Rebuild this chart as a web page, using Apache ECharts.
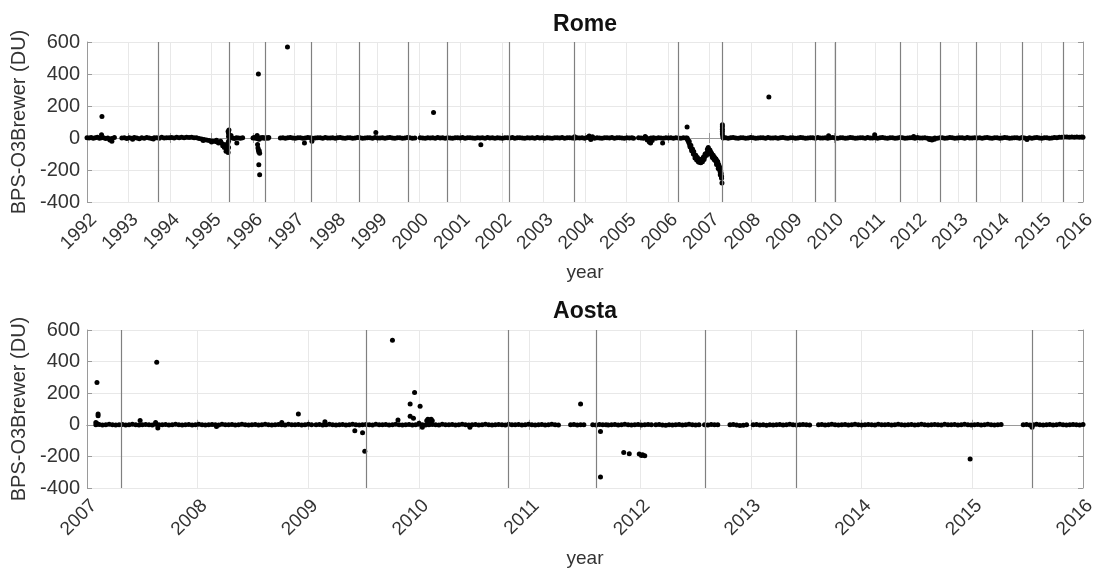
<!DOCTYPE html>
<html>
<head>
<meta charset="utf-8">
<title>BPS-O3Brewer: Rome and Aosta</title>
<script src="https://cdn.jsdelivr.net/npm/echarts@6/dist/echarts.min.js"></script>
<style>
  html, body { margin: 0; padding: 0; background: #fff; }
  #main { width: 1101px; height: 569px; }
</style>
</head>
<body>
<div id="main"></div>
<script>
// ---- axis ranges / ticks ----
var romeYears = [1992, 2016];
var aostaYears = [2007, 2016];
var yTicks = [-400, -200, 0, 200, 400, 600];

// ---- calibration dates (vertical lines), decimal years ----
var romeCalib = [1993.71, 1995.43, 1996.30, 1997.40, 1998.57, 1999.73, 2000.69, 2002.18, 2003.74,
  2006.24, 2007.31, 2009.56, 2010.03, 2011.59, 2012.57, 2013.42, 2014.54, 2015.53];
var aostaCalib = [2007.31, 2009.52, 2010.81, 2011.60, 2012.59, 2013.41, 2015.54];

// ---- Rome: [year, BPS - O3Brewer (DU)] ----
var romeBand1 = [[1992.00,2],[1992.05,0],[1992.10,3],[1992.15,-2],[1992.20,1],[1992.25,4],[1992.30,-1],[1992.35,2],
  [1992.40,2],[1992.45,-3],[1992.50,0],[1992.55,-6],[1992.60,-3],[1992.66,3]];
var romeBand2 = [[1992.84,0],[1992.90,2],[1992.96,-3],[1993.02,1],[1993.08,-2],[1993.14,3],[1993.20,0],[1993.26,-4],
  [1993.32,2],[1993.38,-1],[1993.44,3],[1993.50,0],[1993.56,-3],[1993.62,2],[1993.68,1],[1993.74,-2],[1993.80,4],
  [1993.86,0],[1993.92,2],[1993.98,1],[1994.04,3],[1994.10,0],[1994.16,4],[1994.22,1],[1994.28,5],[1994.34,2],
  [1994.40,5],[1994.46,3],[1994.52,4],[1994.58,2],[1994.64,1],[1994.70,-3],[1994.76,-6],[1994.82,-9],[1994.88,-12],
  [1994.94,-15],[1995.00,-18],[1995.06,-21],[1995.12,-24],[1995.18,-28],[1995.24,-32],[1995.30,-40],[1995.35,-48]];
var romeBand3 = [[1995.45,5],[1995.50,0],[1995.55,-3],[1995.60,2],[1995.65,0],[1995.70,-2],[1995.75,1]];
var romeBand4 = [[1996.00,0],[1996.03,3],[1996.06,-2],[1996.09,5],[1996.12,-5],[1996.15,-8],[1996.18,2],[1996.21,0],
  [1996.24,3],[1996.27,-2],[1996.30,0],[1996.33,2],[1996.36,-1],[1996.38,3]];
var romeBand5 = [[1996.66,0],[1996.72,2],[1996.78,-1],[1996.84,1],[1996.90,3],[1996.96,0],[1997.02,-2],[1997.08,1],
  [1997.14,2],[1997.20,-1],[1997.26,0],[1997.32,3],[1997.38,1],[1997.44,-2],[1997.50,0],[1997.56,2],[1997.62,1],
  [1997.68,-1],[1997.74,3],[1997.80,0],[1997.86,0],[1997.92,2],[1997.98,-1],[1998.04,1],[1998.10,3],[1998.16,0],
  [1998.22,-2],[1998.28,1],[1998.34,2],[1998.40,-1],[1998.46,0],[1998.52,3],[1998.58,1],[1998.64,-2],[1998.70,0],
  [1998.76,2],[1998.82,1],[1998.88,-1],[1998.94,3],[1999.00,0],[1999.06,0],[1999.12,2],[1999.18,-1],[1999.24,1],
  [1999.30,3],[1999.36,0],[1999.42,-2],[1999.48,1],[1999.54,2],[1999.60,-1],[1999.66,0],[1999.72,3],[1999.78,1],
  [1999.84,-2],[1999.90,0]];
var romeBand6 = [[2000.03,1],[2000.09,0],[2000.15,-2],[2000.21,2],[2000.27,0],[2000.33,1],[2000.39,-1],[2000.45,3],
  [2000.51,0],[2000.57,2],[2000.63,-1],[2000.69,1],[2000.75,0],[2000.81,-2],[2000.87,2],[2000.93,1],[2000.99,0],
  [2001.05,3],[2001.11,-1],[2001.17,1],[2001.23,1],[2001.29,0],[2001.35,-2],[2001.41,2],[2001.47,0],[2001.53,1],
  [2001.59,-1],[2001.65,3],[2001.71,0],[2001.77,2],[2001.83,-1],[2001.89,1],[2001.95,0],[2002.01,-2],[2002.07,2],
  [2002.13,1],[2002.19,0],[2002.25,3],[2002.31,-1],[2002.37,1],[2002.43,1],[2002.49,0],[2002.55,-2],[2002.61,2],
  [2002.67,0],[2002.73,1],[2002.79,-1],[2002.85,3],[2002.91,0],[2002.97,2],[2003.03,-1],[2003.09,1],[2003.15,0],
  [2003.21,-2],[2003.27,2],[2003.33,1],[2003.39,0],[2003.45,3],[2003.51,-1],[2003.57,1],[2003.63,1],[2003.69,0],
  [2003.75,-2],[2003.81,2],[2003.87,0],[2003.93,1],[2003.99,-1],[2004.05,3],[2004.11,0],[2004.17,2],[2004.23,-1],
  [2004.29,1],[2004.35,0],[2004.41,-2],[2004.47,2],[2004.53,1],[2004.59,0],[2004.65,3],[2004.71,-1],[2004.77,1],
  [2004.83,1],[2004.89,0],[2004.95,-2],[2005.01,2],[2005.07,0],[2005.13,1],[2005.17,-1]];
var romeBand7 = [[2005.29,2],[2005.35,0],[2005.41,-2],[2005.47,3],[2005.53,-4],[2005.59,0],[2005.65,2],[2005.71,-1],
  [2005.77,1],[2005.83,0],[2005.89,-2],[2005.95,1],[2006.01,0],[2006.07,2],[2006.13,-1],[2006.19,1],[2006.25,0],
  [2006.31,-2],[2006.37,1],[2006.43,0]];
var romeDip = [[2006.46,0],[2006.48,-15],[2006.50,-28],[2006.52,-40],[2006.54,-52],[2006.56,-64],[2006.58,-75],
  [2006.60,-85],[2006.62,-95],[2006.64,-105],[2006.66,-115],[2006.68,-122],[2006.70,-130],[2006.72,-136],
  [2006.74,-141],[2006.76,-144],[2006.78,-146],[2006.80,-143],[2006.82,-140],[2006.84,-133],[2006.86,-126],
  [2006.88,-118],[2006.90,-110],[2006.92,-102],[2006.94,-94],[2006.96,-82],[2006.98,-72],[2007.00,-84],
  [2007.02,-94],[2007.04,-102],[2007.06,-110],[2007.08,-118],[2007.10,-125],[2007.12,-133],[2007.14,-140],
  [2007.16,-148],[2007.18,-157],[2007.20,-168],[2007.22,-182],[2007.24,-198],[2007.26,-215],[2007.28,-236],
  [2007.29,-252],[2006.47,-8],[2006.51,-20],[2006.53,-55],[2006.55,-45],[2006.57,-80],[2006.59,-68],[2006.61,-100],
  [2006.62,-85],[2006.65,-125],[2006.67,-108],[2006.69,-138],[2006.71,-122],[2006.73,-148],[2006.75,-152],
  [2006.77,-135],[2006.79,-155],[2006.80,-135],[2006.83,-148],[2006.85,-120],[2006.87,-135],[2006.89,-104],
  [2006.90,-98],[2006.93,-108],[2006.95,-70],[2006.97,-60],[2006.99,-90],[2007.01,-75],[2007.03,-88],
  [2007.05,-95],[2007.07,-122],[2007.09,-108],[2007.11,-135],[2007.12,-120],[2007.15,-130],[2007.16,-135],
  [2007.17,-165],[2007.19,-145],[2007.20,-150],[2007.21,-190],[2007.22,-165],[2007.23,-175],[2007.25,-185],
  [2007.26,-230],[2007.27,-205],[2007.28,-220],[2007.29,-240],[2007.30,-281]];
var romeBand9 = [[2007.31,83],[2007.31,70],[2007.31,55],[2007.31,40],[2007.31,25],[2007.32,10],
  [2007.33,0],[2007.39,2],[2007.45,-1],[2007.51,1],[2007.57,3],[2007.63,0],[2007.69,-2],[2007.75,1],[2007.81,2],
  [2007.87,-1],[2007.93,0],[2007.99,3],[2008.05,1],[2008.11,-2],[2008.17,0],[2008.23,2],[2008.29,1],[2008.35,-1],
  [2008.41,3],[2008.47,0],[2008.53,0],[2008.59,2],[2008.65,-1],[2008.71,1],[2008.77,3],[2008.83,0],[2008.89,-2],
  [2008.95,1],[2009.01,2],[2009.07,-1],[2009.13,0],[2009.19,3],[2009.25,1],[2009.31,-2],[2009.37,0],[2009.43,2],
  [2009.49,1],[2009.55,-1],[2009.61,3],[2009.67,0],[2009.73,0],[2009.79,2],[2009.85,-1],[2009.91,1],[2009.97,3],
  [2010.03,0],[2010.09,-2],[2010.15,1],[2010.21,2],[2010.27,-1],[2010.33,0],[2010.39,3],[2010.45,1],[2010.51,-2],
  [2010.57,0],[2010.63,2],[2010.69,1],[2010.75,-1],[2010.81,3],[2010.87,0],[2010.93,0],[2010.99,2],[2011.05,-1],
  [2011.11,1],[2011.17,3],[2011.23,0],[2011.29,-2],[2011.35,1],[2011.41,2],[2011.47,-1],[2011.53,0],[2011.59,3],
  [2011.65,1],[2011.71,-2],[2011.77,0],[2011.83,2],[2011.89,1],[2011.95,-1],[2012.01,3],[2012.07,0],[2012.13,0],
  [2012.19,2],[2012.25,-1],[2012.31,-3],[2012.37,-4],[2012.43,0],[2012.49,-2],[2012.55,1],[2012.61,2],[2012.67,-1],
  [2012.73,0],[2012.79,3],[2012.85,1],[2012.91,-2],[2012.97,0],[2013.03,2],[2013.09,1],[2013.15,-1],[2013.21,3],
  [2013.27,0],[2013.33,0],[2013.39,2]];
var romeBand10 = [[2013.45,0],[2013.51,2],[2013.57,-1],[2013.63,1],[2013.69,3],[2013.75,0],[2013.81,-2],[2013.87,1],
  [2013.93,2],[2013.99,-1],[2014.05,0],[2014.11,3],[2014.17,1],[2014.23,-2],[2014.29,0],[2014.35,2],[2014.41,1],
  [2014.47,-1],[2014.53,3],[2014.59,0],[2014.65,-3],[2014.71,2],[2014.77,-1],[2014.83,1],[2014.89,3],[2014.95,0],
  [2015.01,-2],[2015.07,1],[2015.13,2],[2015.19,-1],[2015.25,0],[2015.31,3],[2015.37,1],[2015.43,4],[2015.49,5],
  [2015.55,6],[2015.61,6],[2015.67,5],[2015.73,6],[2015.79,5],[2015.85,6],[2015.91,5],[2015.97,6],[2016.00,5]];
var romeOutliers = [[1992.36,135],[1992.35,20],[1992.60,-20],[1992.55,-12],[1993.10,-8],[1993.60,-7],[1994.80,-15],
  [1995.00,-25],[1995.12,-14],[1995.17,-32],[1995.22,-20],[1995.27,-48],[1995.31,-60],[1995.35,-83],[1995.37,-70],
  [1995.39,-35],[1995.40,-90],[1995.41,-60],[1995.41,-20],[1995.41,10],[1995.41,28],[1995.40,41],[1995.42,50],
  [1995.47,15],[1995.61,-31],[1996.13,400],[1996.10,15],[1996.11,-40],[1996.12,-62],[1996.13,-75],[1996.14,-88],
  [1996.15,-80],[1996.16,-95],[1996.14,-167],[1996.16,-229],[1996.83,569],[1997.24,-31],[1997.42,-20],[1998.96,35],
  [2000.35,160],[2001.49,-42],[2003.75,8],[2004.10,12],[2004.14,-10],[2004.18,8],[2005.45,10],[2005.50,-12],
  [2005.55,-25],[2005.58,-32],[2005.62,-15],[2005.87,-31],[2006.46,69],[2008.43,256],[2009.87,14],[2010.98,20],
  [2011.92,10],[2012.30,-10],[2012.36,-12],[2012.42,-8],[2014.65,-10]];

// ---- Aosta: [year, BPS - O3Brewer (DU)] ----
var aostaBand1 = [[2007.08,0],[2007.11,2],[2007.14,-1],[2007.17,1],[2007.20,3],[2007.23,0],[2007.26,-2],[2007.29,1],
  [2007.32,2],[2007.35,-1],[2007.38,0],[2007.41,3],[2007.44,1],[2007.47,-2],[2007.50,0],[2007.53,2],[2007.56,1],
  [2007.59,-1],[2007.62,3],[2007.65,0],[2007.68,0],[2007.71,2],[2007.74,-1],[2007.77,1],[2007.80,3],[2007.83,0],
  [2007.86,-2],[2007.89,1],[2007.92,2],[2007.95,-1],[2007.98,0],[2008.01,3],[2008.04,1],[2008.07,-2],[2008.10,0],
  [2008.13,2],[2008.16,1],[2008.19,-1],[2008.22,3],[2008.25,0],[2008.28,0],[2008.31,2],[2008.34,-1],[2008.37,1],
  [2008.40,3],[2008.43,0],[2008.46,-2],[2008.49,1],[2008.52,2],[2008.55,-1],[2008.58,0],[2008.61,3],[2008.64,1],
  [2008.67,-2],[2008.70,0],[2008.73,2],[2008.76,1],[2008.79,-1],[2008.82,3],[2008.85,0],[2008.88,0],[2008.91,2],
  [2008.94,-1],[2008.97,1],[2009.00,3],[2009.03,0]];
var aostaBand2 = [[2009.07,0],[2009.10,2],[2009.13,-1],[2009.16,1],[2009.19,3],[2009.22,0],[2009.25,-2],[2009.28,1],
  [2009.31,2],[2009.34,-1],[2009.37,0],[2009.40,3],[2009.43,1],[2009.46,-2],[2009.49,0],[2009.52,2],[2009.55,1],
  [2009.58,-1],[2009.61,3],[2009.64,0],[2009.67,0],[2009.70,2],[2009.73,-1],[2009.76,1],[2009.79,3],[2009.82,0],
  [2009.85,-2],[2009.88,1],[2009.91,2],[2009.94,-1],[2009.97,0],[2010.00,3],[2010.03,1],[2010.06,-2],[2010.09,0],
  [2010.12,2],[2010.15,1],[2010.18,-1],[2010.21,3],[2010.24,0],[2010.27,0],[2010.30,2],[2010.33,-1],[2010.36,1],
  [2010.39,3],[2010.42,0],[2010.45,-2],[2010.48,1],[2010.51,2],[2010.54,-1],[2010.57,0],[2010.60,3],[2010.63,1],
  [2010.66,-2],[2010.69,0],[2010.72,2],[2010.75,1],[2010.78,-1],[2010.81,3],[2010.84,0],[2010.87,0],[2010.90,2],
  [2010.93,-1],[2010.96,1],[2010.99,3],[2011.02,0],[2011.05,-2],[2011.08,1],[2011.11,2],[2011.14,-1],[2011.17,0],
  [2011.20,3],[2011.23,1],[2011.26,-2]];
var aostaBand3 = [[2011.37,0],[2011.40,2],[2011.43,-1],[2011.46,1],[2011.49,0]];
var aostaBand4 = [[2011.57,1],[2011.60,-1],[2011.63,2],[2011.66,0],[2011.69,1],[2011.71,-1]];
var aostaBand5 = [[2011.74,0],[2011.77,2],[2011.80,-1],[2011.83,1],[2011.86,3],[2011.89,0],[2011.92,-2],[2011.95,1],
  [2011.98,2],[2012.01,-1],[2012.04,0],[2012.07,2],[2012.10,1]];
var aostaBand6 = [[2012.14,0],[2012.17,2],[2012.20,-1],[2012.23,-3],[2012.26,0],[2012.29,-2],[2012.32,1],[2012.35,2],
  [2012.38,-1],[2012.41,0],[2012.44,3],[2012.47,1],[2012.50,-2],[2012.53,0]];
var aostaBand7 = [[2012.58,1],[2012.61,-1],[2012.64,2],[2012.67,0],[2012.70,1]];
var aostaBand8 = [[2012.81,0],[2012.84,2],[2012.87,-1],[2012.90,-4],[2012.93,-3],[2012.96,0]];
var aostaBand9 = [[2013.02,0],[2013.05,2],[2013.08,-1],[2013.11,1],[2013.14,-3],[2013.17,0],[2013.20,-2],[2013.23,1],
  [2013.26,2],[2013.29,-1],[2013.32,0],[2013.35,3],[2013.38,1],[2013.41,-2],[2013.44,0],[2013.47,2],[2013.50,1],
  [2013.53,-1]];
var aostaBand10 = [[2013.61,0],[2013.64,2],[2013.67,-1],[2013.70,1],[2013.73,3],[2013.76,0],[2013.79,-2],[2013.82,1],
  [2013.85,2],[2013.88,-1],[2013.91,0],[2013.94,3],[2013.97,1],[2014.00,-2],[2014.03,0],[2014.06,2],[2014.09,1],
  [2014.12,-1],[2014.15,3],[2014.18,0],[2014.21,0],[2014.24,2],[2014.27,-1],[2014.30,1],[2014.33,3],[2014.36,0],
  [2014.39,-2],[2014.42,1],[2014.45,2],[2014.48,-1],[2014.51,0],[2014.54,3],[2014.57,1],[2014.60,-2],[2014.63,0],
  [2014.66,2],[2014.69,1],[2014.72,-1],[2014.75,3],[2014.78,0],[2014.81,0],[2014.84,2],[2014.87,-1],[2014.90,1],
  [2014.93,3],[2014.96,0],[2014.99,-2],[2015.02,1],[2015.05,2],[2015.08,-1],[2015.11,0],[2015.14,3],[2015.17,1],
  [2015.20,-2],[2015.23,0],[2015.26,2]];
var aostaBand11 = [[2015.46,0],[2015.49,2],[2015.52,-1],[2015.55,1],[2015.58,3],[2015.61,0],[2015.64,-2],[2015.67,1],
  [2015.70,2],[2015.73,-1],[2015.76,0],[2015.79,3],[2015.82,1],[2015.85,-2],[2015.88,0],[2015.91,2],[2015.94,1],
  [2015.97,-1],[2016.00,2]];
var aostaOutliers = [[2007.09,267],[2007.10,69],[2007.10,58],[2007.08,15],[2007.09,8],[2007.48,27],[2007.62,15],
  [2007.63,396],[2007.64,-20],[2008.17,-10],[2008.76,15],[2008.91,69],[2009.15,20],[2009.42,-38],[2009.49,-50],
  [2009.51,-167],[2009.76,535],[2009.81,30],[2009.92,131],[2009.92,54],[2009.95,42],[2009.96,204],[2010.00,10],
  [2010.01,117],[2010.03,-15],[2010.07,25],[2010.08,35],[2010.09,30],[2010.10,22],[2010.11,35],[2010.12,25],
  [2010.46,-15],[2011.46,131],[2011.64,-42],[2011.64,-331],[2011.85,-175],[2011.90,-183],[2011.99,-185],
  [2012.01,-194],[2012.02,-190],[2012.04,-196],[2014.98,-217],[2015.54,-15]];

var romeData = [].concat(romeBand1, romeBand2, romeBand3, romeBand4, romeBand5, romeBand6, romeBand7,
  romeDip, romeBand9, romeBand10, romeOutliers);
var aostaData = [].concat(aostaBand1, aostaBand2, aostaBand3, aostaBand4, aostaBand5, aostaBand6, aostaBand7,
  aostaBand8, aostaBand9, aostaBand10, aostaBand11, aostaOutliers);

var FONT = '"Liberation Sans", Arial, Helvetica, sans-serif';
var frameColor = '#9a9a9a';
var gridColor = '#e8e8e8';
var labelColor = '#333';

function bottomAxis(idx, range) {
  return {
    gridIndex: idx, type: 'value', position: 'bottom',
    min: range[0], max: range[1], interval: 1,
    name: 'year', nameLocation: 'middle', nameGap: 61,
    nameTextStyle: { fontSize: 19, color: labelColor, fontFamily: FONT },
    axisLine: { show: true, lineStyle: { color: frameColor, width: 1 } },
    axisTick: { show: true, inside: true, length: 5, lineStyle: { color: frameColor } },
    axisLabel: { rotate: 45, fontSize: 19, color: labelColor, fontFamily: FONT, margin: 8,
      verticalAlign: 'top',
      formatter: function (v) { return String(v); } },
    splitLine: { show: true, lineStyle: { color: gridColor, width: 1 } }
  };
}
function topAxis(idx, range) {
  return {
    gridIndex: idx, type: 'value', position: 'top',
    min: range[0], max: range[1], interval: 1,
    axisLine: { show: true, lineStyle: { color: frameColor, width: 1 } },
    axisTick: { show: true, inside: true, length: 5, lineStyle: { color: frameColor } },
    axisLabel: { show: false }, splitLine: { show: false }
  };
}
function leftAxis(idx) {
  return {
    gridIndex: idx, type: 'value', position: 'left',
    min: yTicks[0], max: yTicks[yTicks.length - 1], interval: yTicks[1] - yTicks[0],
    name: 'BPS-O3Brewer (DU)', nameLocation: 'middle', nameGap: 48, nameRotate: 90,
    nameTextStyle: { fontSize: 20, color: labelColor, fontFamily: FONT },
    axisLine: { show: true, lineStyle: { color: frameColor, width: 1 } },
    axisTick: { show: true, inside: true, length: 5, lineStyle: { color: frameColor } },
    axisLabel: { fontSize: 20, color: labelColor, fontFamily: FONT, margin: 7 },
    splitLine: { show: true, lineStyle: { color: gridColor, width: 1 } }
  };
}
function rightAxis(idx) {
  return {
    gridIndex: idx, type: 'value', position: 'right',
    min: yTicks[0], max: yTicks[yTicks.length - 1], interval: yTicks[1] - yTicks[0],
    axisLine: { show: true, lineStyle: { color: frameColor, width: 1 } },
    axisTick: { show: true, inside: true, length: 5, lineStyle: { color: frameColor } },
    axisLabel: { show: false }, splitLine: { show: false }
  };
}
function scatterSeries(idx, data, calib) {
  return {
    type: 'scatter', xAxisIndex: idx * 2, yAxisIndex: idx * 2,
    data: data, symbol: 'circle', symbolSize: 5,
    itemStyle: { color: '#000', opacity: 1 },
    markLine: {
      silent: true, symbol: ['none', 'none'], animation: false,
      label: { show: false },
      lineStyle: { color: '#808080', width: 1.2, type: 'solid' },
      emphasis: { disabled: true },
      data: calib.map(function (d) { return { xAxis: d }; })
    }
  };
}

var chart = echarts.init(document.getElementById('main'), null, { renderer: 'canvas' });
chart.setOption({
  animation: false,
  backgroundColor: '#fff',
  textStyle: { fontFamily: FONT },
  title: [
    { text: 'Rome', left: 585, top: 13, textAlign: 'center', padding: 0,
      textStyle: { fontSize: 23, fontWeight: 'bold', color: '#111', fontFamily: FONT } },
    { text: 'Aosta', left: 585, top: 300, textAlign: 'center', padding: 0,
      textStyle: { fontSize: 23, fontWeight: 'bold', color: '#111', fontFamily: FONT } }
  ],
  grid: [
    { left: 87, right: 18, top: 42, height: 160 },
    { left: 87, right: 18, top: 330, height: 159 }
  ],
  xAxis: [bottomAxis(0, romeYears), topAxis(0, romeYears), bottomAxis(1, aostaYears), topAxis(1, aostaYears)],
  yAxis: [leftAxis(0), rightAxis(0), leftAxis(1), rightAxis(1)],
  series: [scatterSeries(0, romeData, romeCalib), scatterSeries(1, aostaData, aostaCalib)]
});
</script>
</body>
</html>
